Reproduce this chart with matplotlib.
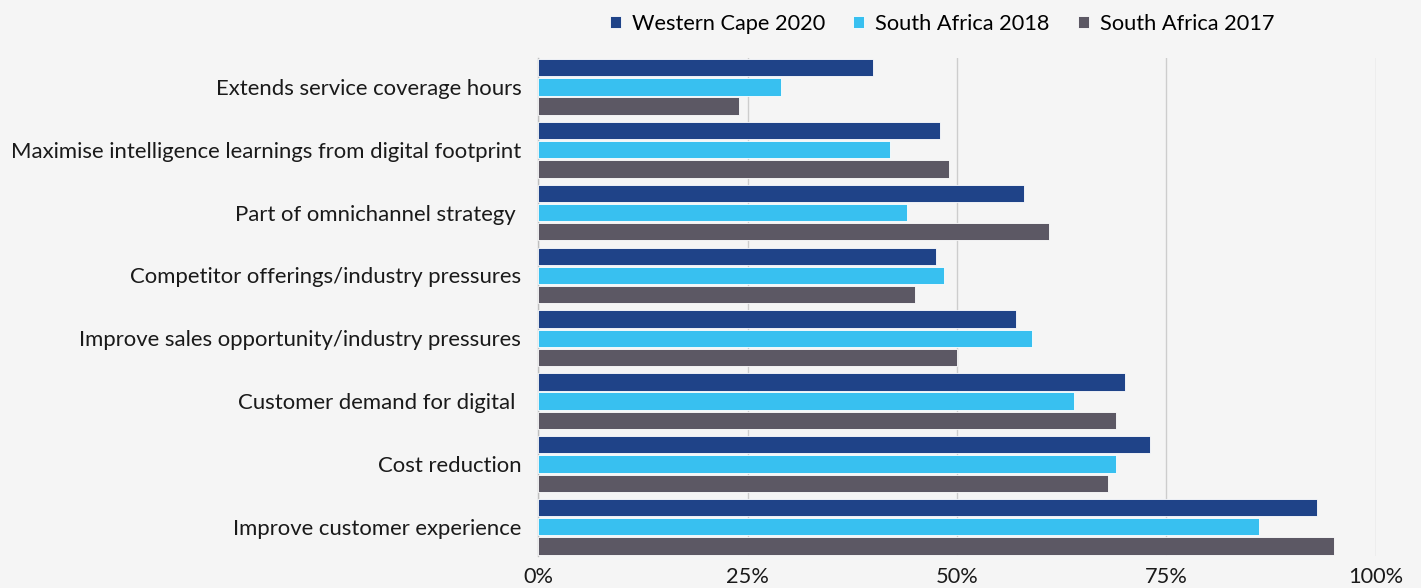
import matplotlib
matplotlib.use("Agg")
import matplotlib.pyplot as plt
import numpy as np
from matplotlib.ticker import FuncFormatter

plt.rcParams["font.family"] = ["Lato", "DejaVu Sans"]

categories = [
    "Extends service coverage hours",
    "Maximise intelligence learnings from digital footprint",
    "Part of omnichannel strategy ",
    "Competitor offerings/industry pressures",
    "Improve sales opportunity/industry pressures",
    "Customer demand for digital ",
    "Cost reduction",
    "Improve customer experience",
]
western_cape_2020 = [40, 48, 58, 47.5, 57, 70, 73, 93]
south_africa_2018 = [29, 42, 44, 48.5, 59, 64, 69, 86]
south_africa_2017 = [24, 49, 61, 45, 50, 69, 68, 95]

series_names = ["Western Cape 2020", "South Africa 2018", "South Africa 2017"]
colors = ["#1F4388", "#38C0F0", "#5C5864"]
bg = "#F5F5F5"

fig = plt.figure(figsize=(14.21, 5.88), dpi=100, facecolor=bg)
ax = fig.add_axes([538 / 1421, 1 - 555.7 / 588, 838 / 1421, (555.7 - 58) / 588])
ax.set_facecolor(bg)

y = np.arange(len(categories))
pitch = 0.306
height = 0.275
for k, (vals, name, c) in enumerate(zip(
        [western_cape_2020, south_africa_2018, south_africa_2017], series_names, colors)):
    ax.barh(y + (k - 1) * pitch, vals, height=height, color=c, label=name,
            edgecolor="#FFFFFF", linewidth=0.6, zorder=3)

ax.set_ylim(len(categories) - 1 + 0.46, -0.46)
ax.set_xlim(0, 100)
ax.set_xticks([0, 25, 50, 75, 100])
ax.xaxis.set_major_formatter(FuncFormatter(lambda v, _: f"{v:.0f}%"))
ax.set_yticks(y)
ax.set_yticklabels(categories)
ax.tick_params(axis="y", length=0, pad=12, labelsize=15.9, labelcolor="#1A1A1A")
ax.tick_params(axis="x", length=0, pad=8, labelsize=15.7, labelcolor="#1A1A1A")
ax.grid(axis="x", color="#CDCDCD", linewidth=1.0, zorder=0)
for side in ["top", "right", "bottom"]:
    ax.spines[side].set_visible(False)
ax.spines["left"].set_color("#BFBFBF")
ax.spines["left"].set_linewidth(1.0)

fig.legend(loc="center", bbox_to_anchor=(942 / 1421, 1 - 24 / 588), ncol=3,
           frameon=False, fontsize=15.7, handlelength=0.5, handleheight=0.5,
           handletextpad=0.5, columnspacing=1.3)

fig.savefig("out.png", dpi=100, facecolor=bg)
